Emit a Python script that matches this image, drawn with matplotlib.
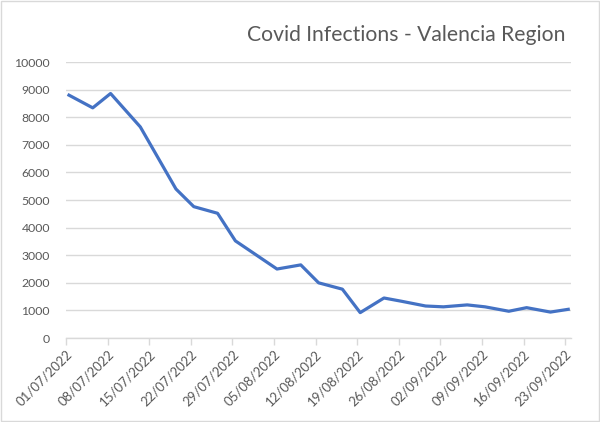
import numpy as np
import matplotlib
matplotlib.use("Agg")
import matplotlib.pyplot as plt
import matplotlib.dates as mdates
from matplotlib.patches import Rectangle

plt.rcParams['font.family'] = ['Lato', 'DejaVu Sans']

# readings (twice a week, Tue/Fri)
dates = ["2022-07-01", "2022-07-05", "2022-07-08", "2022-07-13", "2022-07-19",
         "2022-07-22", "2022-07-26", "2022-07-29", "2022-08-05", "2022-08-09",
         "2022-08-12", "2022-08-16", "2022-08-19", "2022-08-23", "2022-08-26",
         "2022-08-30", "2022-09-02", "2022-09-06", "2022-09-09", "2022-09-13",
         "2022-09-16", "2022-09-20", "2022-09-23"]
infections = [8800, 8340, 8860, 7650, 5400,
              4760, 4520, 3520, 2500, 2650,
              2000, 1770, 920, 1450, 1330,
              1160, 1130, 1200, 1130, 970,
              1100, 940, 1040]
title = "Covid Infections - Valencia Region"

grey_txt = "#595959"
grey_line = "#d9d9d9"

# Excel date axis: each point sits in the middle of its day
x = np.array(dates, dtype="datetime64[D]") + np.timedelta64(12, "h")

fig = plt.figure(figsize=(6, 4.22), dpi=100)
ax = fig.add_axes([0.11, 0.199, 0.842, 0.654])

ax.plot(x, infections, color="#4472C4", lw=2.3, solid_joinstyle="round")

ax.set_ylim(0, 10000)
ax.set_yticks(range(0, 10001, 1000))
ax.set_xlim(np.datetime64("2022-07-01"), np.datetime64("2022-09-24"))
ax.set_xticks(np.arange(np.datetime64("2022-07-01"), np.datetime64("2022-09-24"),
                        np.timedelta64(7, "D")))
ax.xaxis.set_major_formatter(mdates.DateFormatter("%d/%m/%Y"))

ax.grid(axis="y", color=grey_line, lw=1)
ax.set_axisbelow(True)
for s in ["top", "right", "left"]:
    ax.spines[s].set_visible(False)
ax.spines["bottom"].set_color(grey_line)
ax.spines["bottom"].set_linewidth(1)

ax.tick_params(axis="y", length=0, pad=11.5, labelsize=8.8, labelcolor=grey_txt)
ax.tick_params(axis="x", length=5, color=grey_line, width=1, pad=2,
               labelsize=9.5, labelcolor=grey_txt)
for lab in ax.get_xticklabels():
    lab.set_rotation(45)
    lab.set_ha("right")
    lab.set_rotation_mode("anchor")

fig.text(0.943, 0.917, title, ha="right", va="center", fontsize=15.2,
         color=grey_txt)

fig.patches.append(Rectangle((0.002, 0.002), 0.996, 0.996, transform=fig.transFigure,
                             fill=False, edgecolor=grey_line, lw=1))

fig.savefig("out.png", dpi=100)
